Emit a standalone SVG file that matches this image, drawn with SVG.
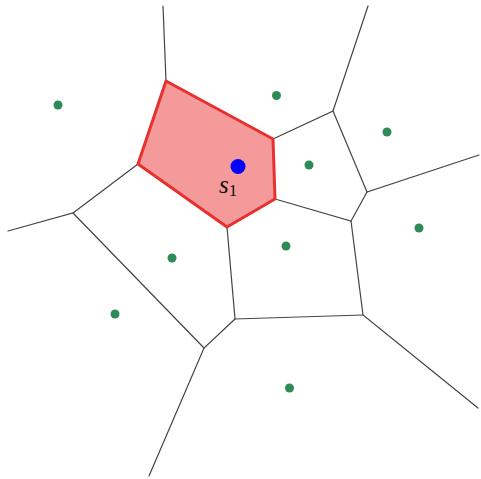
<svg xmlns="http://www.w3.org/2000/svg" width="481" height="479" viewBox="0 0 481 479">
<style>
.e{stroke:#444;stroke-width:1.2;fill:none;stroke-linecap:round}
.site{fill:#2e8b57}
.cell{fill:#f59a9a;stroke:#e8302f;stroke-width:3;stroke-linejoin:round}
.lbl{font-family:"Liberation Serif","DejaVu Serif",serif;font-style:italic;fill:#111}
</style>
<rect width="481" height="479" fill="#fff"/>
<g id="edges">
<path class="e" d="M166,81 L163,6"/>
<path class="e" d="M273,139 L333,111 L368,6"/>
<path class="e" d="M333,111 L367,192 L479,155"/>
<path class="e" d="M367,192 L351,221 L275,199"/>
<path class="e" d="M351,221 L363,315 L478,408"/>
<path class="e" d="M363,315 L235,319 L227,227"/>
<path class="e" d="M235,319 L204,348 L149,476"/>
<path class="e" d="M204,348 L73,213 L8,231"/>
<path class="e" d="M73,213 L138,164"/>
</g>
<g id="cell-s1">
<polygon class="cell" points="166,81 273,139 275,199 227,227 138,164"/>
</g>
<g id="sites">
<circle class="site" cx="58" cy="105" r="4.5"/>
<circle class="site" cx="276.5" cy="95.5" r="4.5"/>
<circle class="site" cx="387" cy="132" r="4.5"/>
<circle class="site" cx="309" cy="165" r="4.5"/>
<circle class="site" cx="419" cy="228" r="4.5"/>
<circle class="site" cx="286" cy="246" r="4.5"/>
<circle class="site" cx="172" cy="258" r="4.5"/>
<circle class="site" cx="115" cy="314" r="4.5"/>
<circle class="site" cx="289.5" cy="388" r="4.5"/>
</g>
<g id="s1">
<circle cx="238" cy="166.5" r="7.5" fill="#0000ff"/>
<text class="lbl" x="219" y="193" font-size="25">s<tspan font-size="17" font-style="normal" dy="3">1</tspan></text>
</g>
</svg>
